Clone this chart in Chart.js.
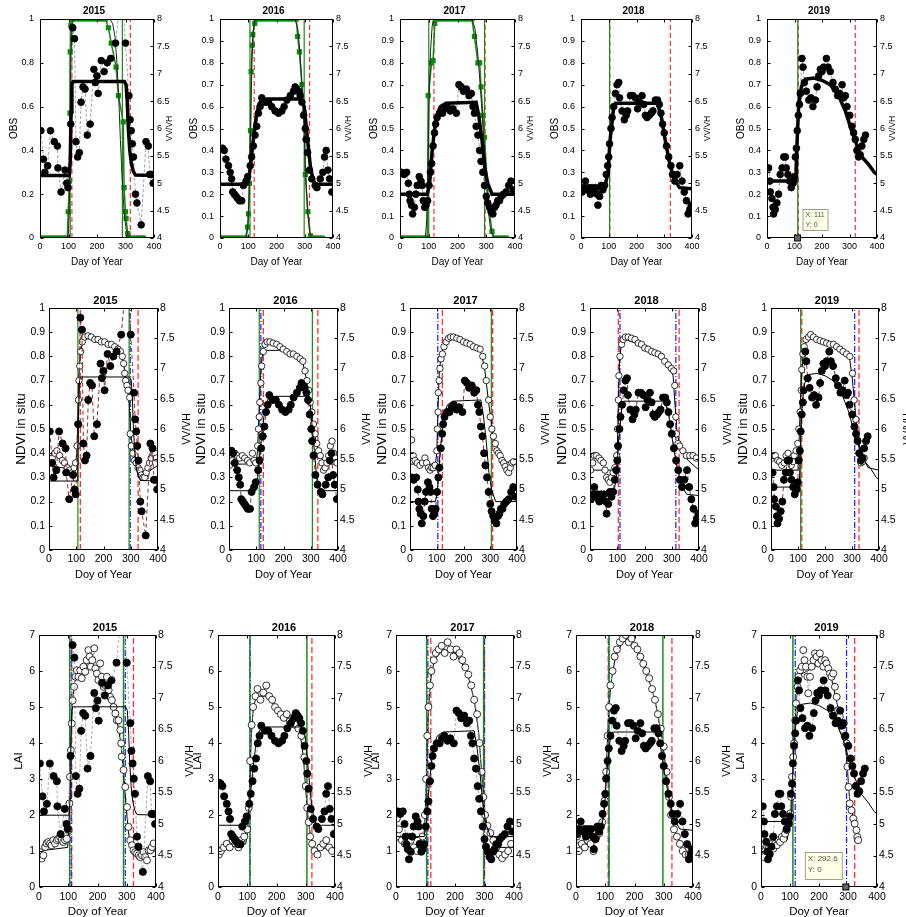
<!DOCTYPE html>
<html><head><meta charset="utf-8">
<script src="https://cdn.jsdelivr.net/npm/chart.js@4.4.1/dist/chart.umd.min.js"></script>
<style>
html,body{margin:0;padding:0;background:#fff;width:906px;height:917px;overflow:hidden;position:relative;}
</style></head><body>
<script>
// ---------------- DATA ----------------
const years = ['2015','2016','2017','2018','2019'];
const xTicks = [0,100,200,300,400];
const obsTicksCoarse = [0,0.2,0.4,0.6,0.8,1];
const obsTicksFine = [0,0.1,0.2,0.3,0.4,0.5,0.6,0.7,0.8,0.9,1];
const laiTicks = [0,1,2,3,4,5,6,7];
const vvTicks = [4,4.5,5,5.5,6,6.5,7,7.5,8];

// VV/VH observations (right axis) per year, [day, VV/VH]
const vv2015 = [[3,5.96],[12,5.44],[17,5.2],[27,5.32],[37,5.96],[50,5.76],[61,5.68],[63,5.28],[74,4.84],[88,5.24],[94,5.0],[98,4.92],[108,6.08],[115,7.84],[121,7.64],[126,5.76],[132,5.48],[138,5.56],[144,6.48],[151,6.76],[158,6.72],[166,5.88],[176,6.08],[189,7.08],[194,6.84],[200,6.96],[204,6.64],[215,7.24],[225,7.04],[236,7.2],[248,7.28],[265,7.56],[286,8.6],[300,7.56],[312,6.6],[316,6.16],[320,5.96],[324,5.72],[328,5.48],[335,4.8],[340,4.64],[355,4.24],[372,5.76],[380,5.68],[385,5.16],[391,5.16],[397,5.0]];
const vv2016 = [[9,5.64],[15,5.6],[21,5.44],[30,5.32],[36,5.2],[41,5.08],[45,4.84],[51,4.8],[57,4.76],[63,4.72],[69,4.68],[77,4.68],[83,4.96],[92,5.04],[98,5.12],[107,5.32],[112,5.48],[118,5.68],[124,5.88],[130,6.04],[136,6.28],[142,6.4],[148,6.56],[160,6.48],[172,6.48],[183,6.4],[195,6.32],[207,6.28],[219,6.32],[227,6.4],[237,6.52],[249,6.6],[260,6.68],[266,6.76],[272,6.72],[278,6.68],[284,6.6],[290,6.48],[296,6.24],[302,6.0],[305,5.8],[310,5.56],[317,5.24],[325,5.08],[337,4.96],[343,4.92],[355,5.08],[364,5.2],[370,5.48],[376,5.6],[382,5.24],[388,5.08],[396,4.84]];
const vv2017 = [[6,5.2],[14,5.16],[23,5.2],[29,5.0],[32,4.8],[35,4.68],[40,4.6],[44,4.44],[50,4.56],[55,4.8],[60,4.96],[67,5.12],[73,5.04],[77,4.96],[81,4.68],[86,4.56],[90,4.6],[96,4.68],[101,4.96],[106,5.2],[110,5.36],[115,5.68],[120,5.92],[124,6.08],[129,6.2],[138,6.28],[148,6.28],[156,6.36],[164,6.4],[175,6.32],[184,6.36],[196,6.28],[205,6.8],[213,6.76],[221,6.68],[231,6.72],[240,6.6],[248,6.64],[254,6.4],[259,6.28],[265,6.04],[271,5.88],[277,5.6],[282,5.4],[288,5.2],[294,4.96],[300,4.76],[305,4.64],[311,4.56],[317,4.48],[323,4.44],[329,4.56],[334,4.6],[340,4.68],[346,4.68],[352,4.76],[360,4.8],[369,4.84],[378,4.96],[386,5.04],[394,4.88]];
const vv2018 = [[4,4.84],[10,4.92],[16,5.04],[22,4.88],[28,4.92],[34,4.8],[40,4.92],[46,4.84],[52,4.92],[58,4.8],[61,4.6],[67,4.76],[73,4.96],[79,4.88],[85,4.96],[91,5.16],[96,5.32],[100,5.48],[103,5.72],[108,6.0],[112,6.2],[118,6.4],[124,6.64],[130,6.8],[136,6.84],[139,6.56],[148,6.32],[156,6.16],[163,6.24],[168,6.32],[178,6.6],[187,6.6],[196,6.56],[204,6.36],[211,6.48],[220,6.6],[226,6.44],[232,6.24],[238,6.2],[246,6.24],[253,6.28],[259,6.32],[268,6.52],[276,6.52],[282,6.44],[288,6.28],[294,6.08],[300,5.92],[308,5.68],[316,5.48],[324,5.32],[330,5.16],[338,5.04],[346,5.16],[356,5.32],[364,5.04],[372,4.84],[380,4.68],[386,4.44],[392,4.52],[398,4.6]];
const vv2019 = [[6,5.28],[10,5.04],[12,4.84],[18,4.72],[22,4.56],[24,4.44],[30,4.52],[36,4.64],[42,4.8],[48,5.16],[55,5.28],[61,5.48],[67,5.48],[70,5.28],[76,5.16],[82,5.04],[88,4.92],[95,5.0],[99,5.12],[103,5.48],[107,5.64],[110,5.96],[114,6.24],[118,6.44],[121,6.64],[127,7.28],[131,7.12],[136,6.84],[143,6.68],[152,6.52],[160,6.56],[167,6.4],[176,6.52],[182,6.76],[188,6.96],[194,7.08],[200,7.04],[206,7.12],[216,7.28],[222,7.12],[230,7.04],[240,6.84],[248,6.72],[257,6.6],[264,6.64],[273,6.8],[279,6.56],[285,6.6],[291,6.4],[301,6.24],[309,6.04],[315,5.92],[321,5.8],[327,5.6],[333,5.48],[339,5.52],[345,5.68],[352,5.8],[358,5.88]];

// fitted VV/VH curves
const vvFit2015 = [[0,5.14],[103,5.14],[106,5.4],[109,6.3],[112,6.8],[116,6.86],[296,6.86],[302,6.8],[306,6.5],[310,6.0],[315,5.6],[320,5.38],[327,5.22],[335,5.15],[400,5.14]];
const vvFit2016 = [[0,4.98],[95,4.98],[105,5.2],[118,5.8],[128,6.2],[138,6.45],[150,6.54],[285,6.54],[298,6.4],[310,5.8],[320,5.3],[330,5.05],[340,4.98],[400,4.98]];
const vvFit2017 = [[0,4.8],[95,4.8],[103,5.0],[112,5.6],[125,6.2],[140,6.4],[160,6.46],[265,6.48],[275,6.2],[285,5.8],[295,5.28],[305,5.0],[320,4.8],[400,4.8]];
const vvFit2018 = [[0,4.9],[85,4.9],[97,5.2],[105,5.8],[118,6.4],[125,6.46],[275,6.46],[290,6.2],[303,5.8],[318,5.4],[335,5.08],[355,4.92],[400,4.9]];
const vvFit2019 = [[0,5.04],[105,5.04],[108,5.6],[115,6.4],[125,6.76],[140,6.9],[170,6.92],[200,6.88],[230,6.8],[260,6.6],[285,6.32],[305,6.0],[325,5.72],[345,5.48],[370,5.34],[390,5.2],[400,5.16]];

// OBS (row 1) observed squares and fitted curve
const obs2015 = [[0,0],[10,0],[20,0],[30,0],[40,0],[50,0],[60,0],[70,0],[80,0],[90,0],[96,0],[99,0.12],[103,0.26],[105,0.57],[106,0.85],[108,0.97],[111,1],[120,1],[130,1],[140,1],[150,1],[160,1],[170,1],[180,1],[190,1],[200,1],[210,1],[220,1],[230,1],[240,0.96],[250,0.89],[267,0.78],[275,0.65],[292,0.53],[295,0.23],[300,0.12],[302,0.09],[308,0.02],[315,0],[325,0],[335,0],[345,0],[355,0],[363,0]];
const obs2016 = [[0,0],[10,0],[20,0],[30,0],[40,0],[50,0],[60,0],[70,0],[80,0],[90,0],[98,0.05],[101,0.11],[104,0.25],[108,0.49],[110,0.76],[114,0.88],[116,0.93],[123,0.98],[130,1],[140,1],[150,1],[160,1],[170,1],[180,1],[190,1],[200,1],[210,1],[220,1],[230,1],[240,1],[250,1],[260,1],[270,1],[275,0.92],[281,0.85],[290,0.70],[298,0.57],[302,0.29],[311,0.12],[320,0.01],[330,0],[340,0],[350,0],[363,0]];
const obs2017 = [[0,0],[10,0],[20,0],[30,0],[40,0],[50,0],[60,0],[70,0],[80,0],[90,0],[95,0],[98,0.65],[110,0.80],[115,0.81],[121,0.98],[130,1],[140,1],[150,1],[160,1],[170,1],[180,1],[190,1],[200,1],[210,1],[220,1],[230,1],[240,1],[250,1],[259,0.92],[271,0.80],[277,0.80],[282,0.69],[288,0.56],[294,0.46],[308,0.15],[320,0.03],[330,0],[340,0],[350,0],[360,0],[370,0]];
const obs2018 = [];
const obs2019 = [];
const obsFit2015 = [[0,0],[95,0],[100,0.02],[103,0.15],[106,0.5],[109,0.85],[113,0.98],[120,1],[245,1],[255,0.98],[263,0.92],[270,0.8],[276,0.65],[282,0.45],[288,0.28],[295,0.12],[302,0.04],[310,0.01],[320,0],[370,0]];
const obsFit2016 = [[0,0],[92,0],[98,0.04],[103,0.2],[108,0.5],[113,0.8],[118,0.95],[125,1],[265,1],[275,0.96],[283,0.85],[290,0.7],[297,0.52],[303,0.3],[310,0.12],[317,0.03],[325,0],[370,0]];
const obsFit2017 = [[0,0],[88,0],[93,0.08],[97,0.3],[101,0.6],[106,0.85],[112,0.97],[120,1],[250,1],[260,0.96],[270,0.85],[280,0.68],[290,0.48],[298,0.3],[306,0.14],[314,0.05],[322,0.01],[330,0],[370,0]];
const obsFit2018 = [];
const obsFit2019 = [];

// NDVI in situ (row 2)
const ndvi2015 = [[2,0.36],[12,0.38],[21,0.40],[29,0.41],[39,0.39],[49,0.37],[57,0.36],[67,0.34],[76,0.33],[86,0.32],[92,0.34],[98,0.36],[103,0.43],[105,0.52],[108,0.62],[110,0.70],[113,0.76],[116,0.82],[122,0.86],[131,0.88],[143,0.885],[155,0.88],[168,0.87],[180,0.87],[192,0.86],[204,0.86],[217,0.85],[229,0.85],[241,0.84],[253,0.83],[262,0.82],[269,0.80],[274,0.77],[278,0.73],[281,0.70],[286,0.68],[290,0.66],[296,0.63],[298,0.48],[302,0.43],[308,0.40],[314,0.37],[320,0.36],[327,0.34],[333,0.33],[339,0.31],[345,0.30],[351,0.30],[357,0.32],[363,0.34],[369,0.36],[375,0.38],[382,0.40],[388,0.40],[394,0.38]];
const ndvi2016 = [[2,0.35],[12,0.37],[21,0.40],[30,0.39],[39,0.38],[49,0.39],[58,0.38],[68,0.37],[76,0.36],[86,0.40],[92,0.37],[98,0.36],[105,0.43],[108,0.50],[111,0.55],[113,0.61],[117,0.69],[120,0.76],[126,0.82],[132,0.85],[140,0.86],[150,0.86],[162,0.855],[175,0.85],[187,0.84],[199,0.83],[212,0.82],[224,0.81],[236,0.81],[249,0.80],[261,0.79],[271,0.78],[279,0.74],[286,0.70],[292,0.66],[298,0.61],[304,0.57],[310,0.52],[316,0.48],[322,0.44],[329,0.41],[335,0.39],[341,0.36],[347,0.33],[353,0.34],[359,0.36],[366,0.39],[372,0.43],[378,0.45],[384,0.40],[390,0.38],[396,0.36]];
const ndvi2017 = [[2,0.39],[6,0.455],[12,0.39],[19,0.37],[27,0.36],[37,0.35],[47,0.36],[56,0.38],[62,0.36],[69,0.34],[75,0.33],[81,0.34],[87,0.34],[94,0.35],[100,0.41],[102,0.50],[105,0.57],[106,0.65],[109,0.70],[112,0.75],[116,0.79],[121,0.81],[127,0.84],[135,0.86],[144,0.875],[152,0.88],[162,0.88],[175,0.875],[187,0.87],[200,0.86],[212,0.855],[225,0.85],[237,0.84],[250,0.835],[262,0.83],[272,0.80],[279,0.76],[285,0.70],[294,0.62],[300,0.55],[306,0.50],[312,0.47],[319,0.44],[325,0.41],[331,0.40],[337,0.39],[344,0.37],[350,0.36],[356,0.345],[362,0.33],[369,0.32],[375,0.34],[381,0.36],[387,0.365]];
const ndvi2018 = [[2,0.33],[10,0.36],[16,0.39],[24,0.39],[33,0.38],[40,0.37],[49,0.36],[55,0.33],[61,0.30],[67,0.29],[73,0.28],[79,0.30],[85,0.32],[91,0.34],[98,0.39],[101,0.50],[104,0.62],[106,0.72],[110,0.80],[116,0.85],[122,0.87],[130,0.88],[140,0.88],[152,0.875],[165,0.87],[177,0.855],[189,0.85],[201,0.835],[213,0.83],[226,0.82],[238,0.815],[250,0.81],[262,0.80],[274,0.78],[287,0.765],[299,0.75],[307,0.74],[311,0.68],[315,0.55],[317,0.48],[323,0.44],[329,0.43],[341,0.41],[354,0.39],[366,0.39],[378,0.39],[390,0.38]];
const ndvi2019 = [[4,0.38],[10,0.39],[16,0.39],[25,0.37],[32,0.365],[40,0.35],[49,0.36],[56,0.39],[63,0.40],[69,0.37],[75,0.35],[81,0.365],[86,0.39],[93,0.41],[99,0.44],[103,0.50],[108,0.57],[112,0.66],[114,0.745],[118,0.81],[123,0.84],[130,0.87],[139,0.88],[147,0.89],[157,0.88],[169,0.87],[182,0.865],[194,0.86],[206,0.855],[218,0.85],[231,0.85],[243,0.84],[255,0.83],[267,0.82],[280,0.81],[292,0.80],[302,0.73],[308,0.62],[314,0.54],[320,0.455],[326,0.40],[333,0.36],[339,0.365],[345,0.38]];
const ndviFit2015 = [[0,0.35],[95,0.33],[102,0.4],[106,0.55],[110,0.72],[115,0.82],[125,0.86],[140,0.875],[200,0.86],[250,0.84],[265,0.82],[275,0.76],[282,0.7],[288,0.67],[295,0.6],[300,0.48],[310,0.4],[330,0.34],[345,0.31],[360,0.32],[400,0.35]];
const ndviFit2016 = [[0,0.355],[98,0.355],[104,0.4],[110,0.55],[116,0.72],[122,0.8],[130,0.825],[185,0.825],[250,0.8],[270,0.78],[285,0.7],[298,0.6],[310,0.5],[325,0.42],[345,0.37],[370,0.355],[400,0.355]];
const ndviFit2017 = [[0,0.355],[95,0.355],[100,0.4],[105,0.6],[110,0.75],[120,0.82],[140,0.87],[160,0.88],[250,0.84],[268,0.81],[280,0.74],[295,0.6],[310,0.48],[330,0.41],[360,0.365],[400,0.355]];
const ndviFit2018 = [[0,0.33],[95,0.33],[100,0.4],[104,0.6],[108,0.78],[115,0.85],[130,0.87],[250,0.82],[290,0.76],[305,0.72],[312,0.6],[320,0.48],[335,0.41],[360,0.37],[400,0.33]];
const ndviFit2019 = [[0,0.33],[100,0.33],[104,0.45],[110,0.65],[118,0.8],[130,0.86],[150,0.88],[250,0.84],[290,0.8],[300,0.72],[310,0.6],[320,0.48],[335,0.39],[360,0.34],[400,0.33]];

// LAI (row 3)
const lai2015 = [[3,0.97],[9,0.79],[15,0.88],[21,1.11],[26,1.21],[32,1.25],[38,1.21],[43,1.16],[49,1.30],[55,1.21],[61,1.30],[66,1.34],[72,1.39],[78,1.30],[83,1.25],[89,1.30],[95,1.34],[101,1.58],[104,2.32],[106,3.06],[109,3.80],[112,4.54],[115,5.18],[120,5.56],[125,5.84],[129,6.02],[135,5.84],[141,6.02],[146,5.80],[152,6.12],[158,5.98],[163,6.30],[169,6.58],[173,6.40],[177,6.12],[182,6.30],[189,6.63],[193,6.07],[198,5.93],[203,5.75],[209,6.21],[215,5.84],[221,5.56],[226,5.61],[232,5.84],[238,5.47],[243,5.28],[249,5.19],[255,5.00],[261,4.82],[266,4.63],[272,4.63],[278,4.36],[281,3.99],[283,3.62],[289,3.25],[295,2.78],[301,2.22],[306,1.67],[312,1.30],[318,1.16],[323,1.02],[329,0.97],[335,0.93],[341,0.88],[346,0.83],[352,0.88],[358,0.97],[363,0.83],[369,0.74],[375,1.02],[381,1.02],[386,1.11],[392,1.21]];
const lai2016 = [[3,0.9],[10,1.0],[20,1.1],[30,1.2],[40,1.1],[50,1.3],[60,1.2],[70,1.1],[80,1.3],[90,1.4],[100,1.6],[105,2.2],[110,3.5],[115,4.5],[120,5.0],[128,5.3],[135,5.5],[145,5.2],[155,5.4],[165,5.6],[175,5.3],[185,5.2],[195,5.0],[205,4.9],[215,4.8],[225,4.7],[235,4.8],[245,4.6],[255,4.7],[265,4.5],[275,4.4],[285,4.2],[295,3.6],[300,2.8],[305,2.2],[310,1.8],[315,1.4],[322,1.2],[330,1.0],[340,0.9],[350,1.1],[360,1.2],[370,1.3],[380,1.1],[390,1.0]];
const lai2017 = [[3,1.9],[10,1.6],[20,1.3],[30,1.2],[40,1.4],[50,1.3],[60,1.1],[70,1.0],[80,1.2],[90,1.4],[98,2.0],[102,3.0],[106,4.2],[110,5.0],[115,5.6],[120,6.0],[128,6.3],[135,6.5],[145,6.6],[155,6.7],[165,6.5],[175,6.8],[185,6.6],[195,6.4],[205,6.6],[215,6.5],[225,6.3],[235,6.1],[245,5.9],[255,5.6],[265,5.2],[275,4.8],[283,4.0],[290,3.2],[296,2.5],[302,2.0],[310,1.7],[320,1.5],[330,1.3],[340,1.1],[350,0.9],[360,0.8],[370,0.9],[380,1.0],[390,1.2]];
const lai2018 = [[3,1.4],[10,1.0],[20,1.2],[30,1.1],[40,1.3],[50,1.2],[60,1.0],[70,1.4],[80,1.5],[90,1.8],[98,2.4],[103,3.2],[108,4.2],[113,5.0],[118,5.6],[125,6.0],[132,6.4],[140,6.6],[150,6.8],[160,6.9],[170,7.0],[180,6.8],[190,6.9],[200,6.7],[210,6.6],[220,6.4],[230,6.2],[240,6.0],[250,5.8],[260,5.5],[270,5.2],[280,4.8],[290,4.4],[300,3.9],[310,3.2],[318,2.5],[325,2.0],[335,1.6],[345,1.4],[355,1.2],[365,1.0],[375,0.9],[385,0.9],[395,1.0]];
const lai2019 = [[3,1.04],[9,0.83],[15,1.02],[21,1.11],[26,1.07],[32,1.20],[38,1.11],[43,1.07],[49,1.20],[55,1.16],[61,1.30],[66,1.25],[72,1.39],[78,1.34],[83,1.48],[89,1.58],[95,1.76],[101,2.04],[104,2.50],[107,3.06],[111,3.61],[114,3.99],[118,4.63],[121,5.10],[126,5.56],[130,5.84],[135,6.02],[141,6.12],[146,6.58],[150,6.30],[155,6.12],[160,5.84],[163,5.38],[169,5.84],[175,6.12],[181,6.30],[186,6.49],[192,6.40],[198,6.21],[203,6.49],[209,6.30],[215,6.12],[221,6.30],[226,6.21],[232,6.07],[238,5.93],[243,5.84],[249,5.93],[255,5.56],[261,5.28],[266,4.91],[272,4.73],[278,4.54],[283,4.36],[289,4.17],[295,3.99],[298,3.34],[302,2.78],[306,2.32],[312,2.13],[318,1.90],[323,1.76],[329,1.58],[332,1.39],[335,1.30]];
const laiFit2015 = [[0,1.0],[98,1.1],[102,1.6],[106,2.8],[110,4.2],[115,5.2],[122,5.7],[140,5.95],[180,6.1],[215,5.85],[245,5.3],[265,4.7],[280,4.0],[290,3.1],[298,2.2],[306,1.5],[315,1.1],[330,0.95],[400,1.0]];
const laiFit2016 = [[0,1.1],[95,1.2],[102,1.6],[108,2.8],[114,4.2],[120,4.9],[130,5.3],[160,5.3],[200,5.0],[250,4.7],[280,4.3],[292,3.6],[300,2.7],[308,1.9],[318,1.3],[330,1.05],[400,1.1]];
const laiFit2017 = [[0,1.3],[95,1.4],[100,2.2],[105,3.6],[110,4.9],[118,5.8],[130,6.3],[160,6.6],[200,6.5],[240,6.0],[265,5.2],[280,4.3],[292,3.0],[302,2.0],[315,1.5],[340,1.1],[400,1.1]];
const laiFit2018 = [[0,1.2],[90,1.6],[98,2.3],[105,3.6],[112,4.9],[120,5.7],[135,6.4],[165,6.9],[200,6.7],[240,6.0],[270,5.2],[295,4.1],[310,3.1],[322,2.2],[335,1.6],[360,1.2],[400,1.0]];
const laiFit2019 = [[0,1.0],[90,1.3],[100,1.8],[108,3.0],[115,4.2],[122,5.2],[135,5.9],[160,6.0],[200,6.2],[240,5.9],[265,5.0],[285,4.3],[295,3.6],[305,2.5],[320,1.8],[335,1.3]];

// vertical marker dates (day of year)
const obsGreen = [[106,289],[106,298],[100,294],[103],[112]];
const obsRed   = [[112,317],[121,317],[118,296],[104,322],[114,321]];
const ndviGreen = [[106,294],[111,306],[304],[],[110]];
const ndviBlue  = [[298],[117],[104],[110,315],[310]];
const ndviRed   = [[115,327],[126,326],[121,309],[104,327],[114,326]];
const laiGreen = [[105,289],[109,304],[104,297],[113,297],[110]];
const laiBlue  = [[110,295],[110],[108,300],[112],[118,295]];
const laiRed   = [[112,323],[321],[118,300],[110,328],[323]];

// data-tip readouts shown in the figure [day, value]
const tipObs2019 = [111, 0];
const tipLai2019 = [292.6, 0];

// ---------------- RENDERING ----------------
const FONT = "'Liberation Sans', Arial, Helvetica, sans-serif";
Chart.defaults.font.family = FONT;
Chart.defaults.color = '#000';

const GEOM = [
 {top:19, bottom:238, lefts:[40,220,400,581,767], rights:[154,333,515,692,877], leftW:32, rightW:26, titleFont:10, titlePad:{top:2,bottom:2}, tickFont:9, xTickPad:3, yTickPad:6, y2TickPad:3, leftFont:10, xFont:10, rightFont:8.5, rightOff:16, xH:30},
 {top:308, bottom:550, lefts:[49,229,410,590,771], rights:[158,338,517,699,879], leftW:36, rightW:40, titleFont:11, titlePad:{top:2,bottom:0.8}, tickFont:10.5, xTickPad:3, yTickPad:4, y2TickPad:2, leftFont:13.5, xFont:11, rightFont:10.5, rightOff:29, xH:32},
 {top:635, bottom:887, lefts:[39,218,396,576,761], rights:[156,335,514,693,877], leftW:27, rightW:42, titleFont:11, titlePad:{top:2,bottom:0.8}, tickFont:10.5, xTickPad:3.7, yTickPad:4, y2TickPad:2, leftFont:11.5, xFont:11.5, rightFont:10.5, rightOff:34, xH:32}
];

const framePlugin = {
  id:'frame',
  afterDatasetsDraw(chart, args, o) {
    const {ctx, chartArea:a, scales} = chart;
    ctx.save();
    ctx.strokeStyle = '#000'; ctx.lineWidth = 1;
    const L = Math.round(a.left)+0.5, T = Math.round(a.top)+0.5, R = Math.round(a.right)-0.5, B = Math.round(a.bottom)-0.5;
    ctx.strokeRect(L, T, R-L, B-T);
    ctx.beginPath();
    scales.x.ticks.forEach(t => { const p = Math.round(scales.x.getPixelForValue(t.value))+0.5; ctx.moveTo(p,B); ctx.lineTo(p,B-3); ctx.moveTo(p,T); ctx.lineTo(p,T+3); });
    scales.y.ticks.forEach(t => { const p = Math.round(scales.y.getPixelForValue(t.value))+0.5; ctx.moveTo(L,p); ctx.lineTo(L+3,p); });
    scales.y2.ticks.forEach(t => { const p = Math.round(scales.y2.getPixelForValue(t.value))+0.5; ctx.moveTo(R,p); ctx.lineTo(R-3,p); });
    ctx.stroke();
    if (o.tip) {
      const px = scales.x.getPixelForValue(o.tip[0]), py = scales.y.getPixelForValue(o.tip[1]);
      ctx.fillStyle = '#666'; ctx.fillRect(px-3, py-3, 6, 6);
      ctx.strokeStyle = '#000'; ctx.strokeRect(px-3, py-3, 6, 6);
      const bw = o.tipW, bh = o.tipH;
      const bx = o.tipSide > 0 ? px + 5 : px - 4 - bw;
      const by = py - bh - 8;
      ctx.fillStyle = '#ffffe8'; ctx.fillRect(bx, by, bw, bh);
      ctx.strokeStyle = '#a0a090'; ctx.strokeRect(bx+0.5, by+0.5, bw, bh);
      ctx.fillStyle = '#555'; ctx.font = o.tipFont + 'px ' + FONT; ctx.textBaseline = 'top'; ctx.textAlign = 'left';
      ctx.fillText('X: ' + o.tip[0], bx + 3, by + 3);
      ctx.fillText('Y: ' + o.tip[1], bx + 3, by + 3 + o.tipFont + 3);
    }
    ctx.restore();
  },
  afterDraw(chart, args, o) {
    const {ctx, chartArea:a} = chart;
    ctx.save();
    ctx.translate(a.right + o.rightOff, (a.top + a.bottom)/2);
    ctx.rotate(-Math.PI/2);
    ctx.font = o.rightFont + 'px ' + FONT;
    ctx.fillStyle = '#000'; ctx.textAlign = 'center'; ctx.textBaseline = 'middle';
    ctx.fillText('VV/VH', 0, 0);
    ctx.restore();
  }
};
Chart.register(framePlugin);

const fmt = v => String(Math.round(v*10)/10);

function vlines(days, yMax, color, dash, width) {
  return days.map(d => ({data:[[d,0],[d,yMax]], showLine:true, borderColor:color, borderDash:dash, borderWidth:width, pointRadius:0, yAxisID:'y', order:20}));
}

function panel(row, col, datasets, leftTicks, leftMax, leftLabel, xLabel, tipOpt) {
  const g = GEOM[row];
  const plotL = g.lefts[col], plotR = g.rights[col];
  const titleH = g.titlePad.top + g.titleFont*1.2 + g.titlePad.bottom;
  const W = g.leftW + (plotR - plotL) + g.rightW;
  const H = Math.round(titleH + (g.bottom - g.top) + g.xH);
  const cv = document.createElement('canvas');
  cv.width = W; cv.height = H;
  cv.style.cssText = `position:absolute;left:${plotL-g.leftW}px;top:${g.top-titleH}px;width:${W}px;height:${H}px`;
  document.body.appendChild(cv);
  const frameOpts = {rightOff:g.rightOff, rightFont:g.rightFont};
  if (tipOpt) Object.assign(frameOpts, tipOpt);
  new Chart(cv, {
    type:'scatter',
    data:{datasets},
    options:{
      responsive:false, animation:false, devicePixelRatio:1,
      layout:{padding:0},
      events:[],
      plugins:{
        legend:{display:false}, tooltip:{enabled:false},
        title:{display:true, text:years[col], color:'#000', font:{size:g.titleFont, weight:'bold'}, padding:g.titlePad},
        frame:frameOpts
      },
      scales:{
        x:{type:'linear', position:'bottom', min:0, max:400,
           afterBuildTicks:s => { s.ticks = xTicks.map(v => ({value:v})); },
           afterFit:s => { s.height = g.xH; },
           grid:{display:false, drawTicks:false}, border:{display:false},
           ticks:{autoSkip:false, maxRotation:0, padding:g.xTickPad, color:'#000', font:{size:g.tickFont}, callback:fmt},
           title:{display:true, text:xLabel, color:'#000', font:{size:g.xFont}, padding:{top:0,bottom:0}}},
        y:{type:'linear', position:'left', min:0, max:leftMax,
           afterBuildTicks:s => { s.ticks = leftTicks.map(v => ({value:v})); },
           afterFit:s => { s.width = g.leftW; },
           grid:{display:false, drawTicks:false}, border:{display:false},
           ticks:{autoSkip:false, padding:g.yTickPad, color:'#000', font:{size:g.tickFont}, callback:fmt},
           title:{display:true, text:leftLabel, color:'#000', font:{size:g.leftFont}, padding:{top:0,bottom:0}}},
        y2:{type:'linear', position:'right', min:4, max:8,
           afterBuildTicks:s => { s.ticks = vvTicks.map(v => ({value:v})); },
           afterFit:s => { s.width = g.rightW; },
           grid:{display:false, drawTicks:false}, border:{display:false},
           ticks:{autoSkip:false, padding:g.y2TickPad, color:'#000', font:{size:g.tickFont}, callback:fmt},
           title:{display:false}}
      }
    }
  });
}

const VV = [vv2015, vv2016, vv2017, vv2018, vv2019];
const VVFIT = [vvFit2015, vvFit2016, vvFit2017, vvFit2018, vvFit2019];
const OBS = [obs2015, obs2016, obs2017, obs2018, obs2019];
const OBSFIT = [obsFit2015, obsFit2016, obsFit2017, obsFit2018, obsFit2019];
const NDVI = [ndvi2015, ndvi2016, ndvi2017, ndvi2018, ndvi2019];
const NDVIFIT = [ndviFit2015, ndviFit2016, ndviFit2017, ndviFit2018, ndviFit2019];
const LAI = [lai2015, lai2016, lai2017, lai2018, lai2019];
const LAIFIT = [laiFit2015, laiFit2016, laiFit2017, laiFit2018, laiFit2019];

const GREEN = '#1a8a1a', RED = '#ff3030', BLUE = '#1a1aff';

for (let c = 0; c < 5; c++) {
  // Row 1: OBS
  const r1 = [
    ...vlines(obsGreen[c], 1, GREEN, [], 1.2),
    ...vlines(obsRed[c], 1, RED, [5,3], 1.2),
    {data:OBS[c], showLine:true, borderColor:'#0c8c0c', borderWidth:1.5, pointStyle:'rect', pointRadius:2.6, pointBackgroundColor:'#0c8c0c', pointBorderColor:'#0c8c0c', order:6},
    {data:OBSFIT[c], showLine:true, borderColor:'#222', borderWidth:1, pointRadius:0, order:5},
    {data:VV[c], yAxisID:'y2', showLine:true, borderColor:'#8a8a8a', borderDash:[3,2], borderWidth:0.8, pointRadius:3.4, pointBackgroundColor:'#000', pointBorderColor:'#000', order:3},
    {data:VVFIT[c], yAxisID:'y2', showLine:true, borderColor:'#000', borderWidth:3.5, pointRadius:0, order:1}
  ];
  panel(0, c, r1, c === 0 ? obsTicksCoarse : obsTicksFine, 1, 'OBS', 'Day of Year',
        c === 4 ? {tip:tipObs2019, tipSide:1, tipW:25, tipH:21, tipFont:7} : null);

  // Row 2: NDVI in situ
  const r2 = [
    ...vlines(ndviGreen[c], 1, GREEN, [], 1.2),
    ...vlines(ndviBlue[c], 1, BLUE, [6,2,1,2], 1.2),
    ...vlines(ndviRed[c], 1, RED, [6,3], 1.3),
    {data:NDVI[c], showLine:false, pointRadius:3.2, pointBackgroundColor:'#fff', pointBorderColor:'#000', pointBorderWidth:0.8, order:4},
    {data:NDVIFIT[c], showLine:true, borderColor:'#000', borderWidth:1, pointRadius:0, order:5},
    {data:VV[c], yAxisID:'y2', showLine:true, borderColor:'#8b3030', borderDash:[4,3], borderWidth:1, pointRadius:3.5, pointBackgroundColor:'#000', pointBorderColor:'#000', order:2},
    {data:VVFIT[c], yAxisID:'y2', showLine:true, borderColor:'#000', borderWidth:1, pointRadius:0, order:1}
  ];
  panel(1, c, r2, obsTicksFine, 1, 'NDVI in situ', 'Doy of Year', null);

  // Row 3: LAI
  const r3 = [
    ...vlines(laiGreen[c], 7, GREEN, [], 1.5),
    ...vlines(laiBlue[c], 7, BLUE, [6,2,1,2], 1.2),
    ...vlines(laiRed[c], 7, RED, [6,3], 1.3),
    {data:LAI[c], showLine:true, borderColor:'#999', borderDash:[3,2], borderWidth:0.8, pointRadius:3.5, pointBackgroundColor:'#fff', pointBorderColor:'#000', pointBorderWidth:0.8, order:4},
    {data:LAIFIT[c], showLine:true, borderColor:'#000', borderWidth:1, pointRadius:0, order:5},
    {data:VV[c], yAxisID:'y2', showLine:true, borderColor:'#999', borderDash:[3,2], borderWidth:0.8, pointRadius:3.6, pointBackgroundColor:'#000', pointBorderColor:'#000', order:2},
    {data:VVFIT[c], yAxisID:'y2', showLine:true, borderColor:'#000', borderWidth:1, pointRadius:0, order:1}
  ];
  panel(2, c, r3, laiTicks, 7, 'LAI', 'Doy of Year',
        c === 4 ? {tip:tipLai2019, tipSide:-1, tipW:37, tipH:27, tipFont:8} : null);
}
</script>
</body></html>
